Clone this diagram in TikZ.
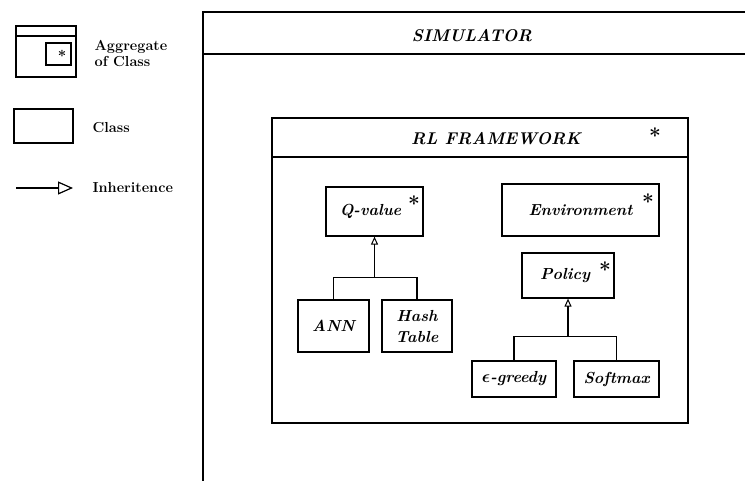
\documentclass[tikz,border=0pt]{standalone}
\usepackage{fontspec}
\usetikzlibrary{arrows.meta,calc}
\begin{document}
\begin{tikzpicture}[x=1pt,y=-1pt,line width=1.2pt,
  cls/.style={draw,inner sep=0pt,align=center,font=\fontsize{16}{21}\selectfont\bfseries\itshape\boldmath},
  ttl/.style={inner sep=0pt,font=\fontsize{17}{18}\selectfont\bfseries\itshape},
  star/.style={inner sep=0pt,font=\fontsize{21}{21}\selectfont\bfseries},
  leg/.style={inner sep=0pt,anchor=west,align=left,font=\fontsize{14.5}{16}\selectfont\bfseries},
  inh/.style={-{Triangle[open,length=8pt,width=7pt,line width=1pt]}},
  linh/.style={-{Triangle[open,length=15pt,width=13pt,line width=1.2pt]}}]
\useasboundingbox (0,0) rectangle (745,480);
\clip (0,0) rectangle (745,480);

% Simulator frame
\draw (203,481) -- (203,12) -- (746,12);
\draw (203,54) -- (746,54);
\node[ttl] (sim) at (472,36) {SIMULATOR};

% RL framework
\draw (272,118) rectangle (688,423);
\draw (272,157) -- (688,157);
\node[ttl] (rl) at (496,139) {RL FRAMEWORK};
\node[star] (rlstar) at (655,136) {*};

% Q-value group
\node[cls,minimum width=97pt,minimum height=49pt] (q) at (374.5,211.5) {Q-value\hspace*{8pt}};
\node[star] (qstar) at (414,204) {*};
\node[cls,minimum width=71pt,minimum height=52pt] (ann) at (333.5,326) {ANN};
\node[cls,minimum width=70pt,minimum height=52pt] (hash) at (417,326) {Hash\\Table};
\path (q.south) ++(0,41) coordinate (qj);
\draw (ann.north) |- (qj) -| (hash.north);
\draw[inh] (qj) -- (q.south);

% Environment
\node[cls,minimum width=157pt,minimum height=52pt] (env) at (580.5,210) {Environment};
\node[star] (envstar) at (648,202) {*};

% Policy group
\node[cls,minimum width=92pt,minimum height=45pt] (pol) at (568,275.5) {Policy\hspace*{6pt}};
\node[star] (polstar) at (605,270) {*};
\node[cls,minimum width=84pt,minimum height=36pt] (eps) at (514,379) {$\epsilon$-greedy};
\node[cls,minimum width=85pt,minimum height=36pt] (soft) at (616.5,379) {Softmax};
\path (pol.south) ++(0,38) coordinate (pj);
\draw (eps.north) |- (pj) -| (soft.north);
\draw[inh] (pj) -- (pol.south);

% Legend
\draw (16,26) rectangle (76,77);
\draw (16,36) -- (76,36);
\draw (46,43) rectangle (71,65);
\node[star,font=\fontsize{15}{15}\selectfont\bfseries] (lgstar) at (62,56) {*};
\node[leg] (lgagg) at (94,54) {Aggregate\\of Class};
\node[draw,inner sep=0pt,minimum width=59pt,minimum height=34pt] (lgcls) at (43.5,126) {};
\node[leg] (lgclst) at (92,128) {Class};
\coordinate (la) at (16,188);
\coordinate (lb) at (73,188);
\draw[linh] (la) -- (lb);
\node[leg] (lginh) at (92,188) {Inheritence};
\end{tikzpicture}
\end{document}
